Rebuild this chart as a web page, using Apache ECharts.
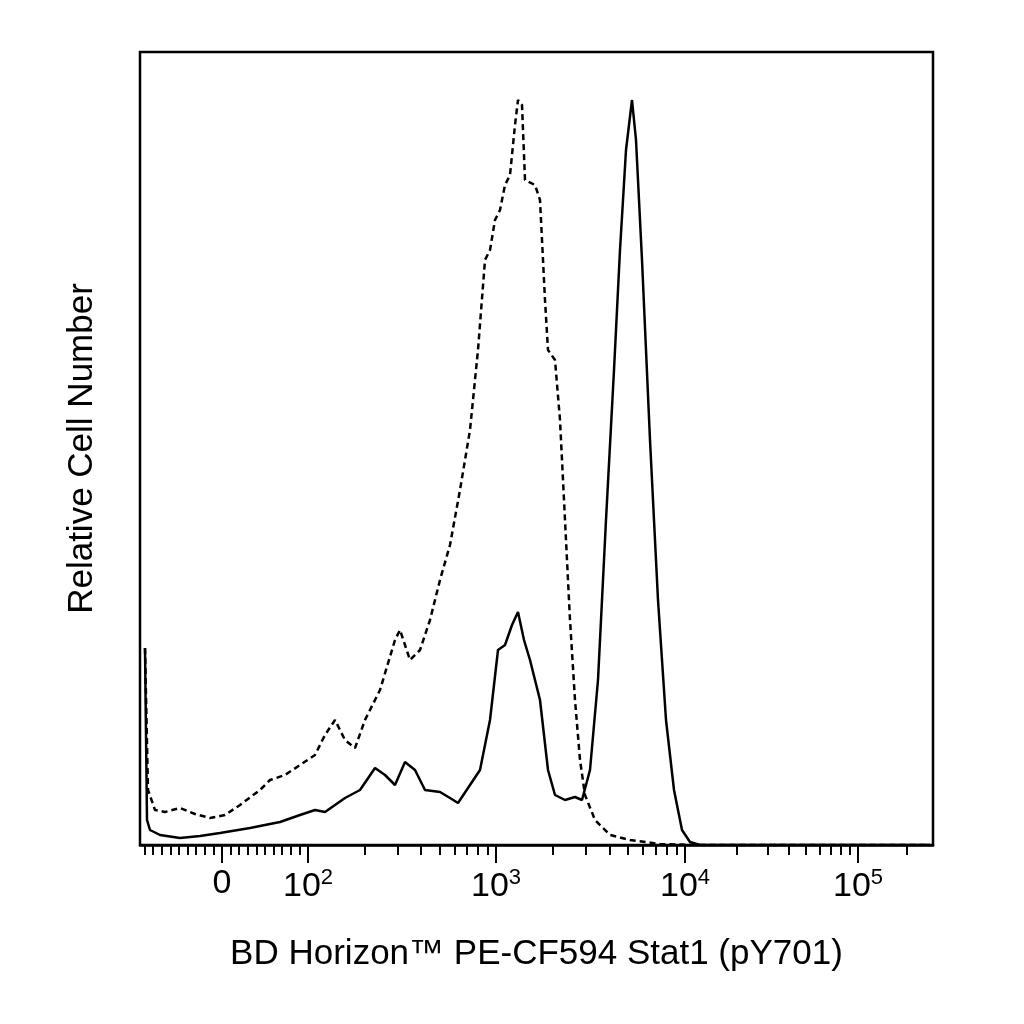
<!DOCTYPE html><html><head><meta charset="utf-8"><script src="https://cdn.jsdelivr.net/npm/echarts@6/dist/echarts.min.js"></script></head><body style="margin:0"><div id="c" style="width:1024px;height:1024px"></div><script>
// channel (display scale 0..793) and relative count
const solidX=[5,7,10,20,40,60,80,110,140,160,175,185,195,205,220,235,245,255,265,275,285,300,310,318,330,340,350,358,365,372,378,384,390,400,408,415,425,435,442,450,458,466,474,480,486,492,496,502,510,518,526,534,542,550,560,790];
const solidY=[197,25,15,10,7,9,12,17,23,30,35,33,40,47,55,77,70,60,83,75,55,53,47,42,60,75,125,195,200,220,233,205,185,145,75,50,45,48,45,75,165,325,475,595,695,745,705,585,405,245,125,55,15,3,0,0];
const dashX=[5,8,15,25,40,55,70,85,100,120,130,145,160,175,185,195,205,215,225,240,255,260,270,280,290,300,310,320,330,338,345,350,355,360,365,370,375,378,382,385,395,400,405,408,415,420,425,430,435,440,445,455,470,490,520,560,790];
const dashY=[197,55,35,33,37,31,27,30,40,55,65,70,80,90,110,125,105,97,125,155,205,215,185,195,225,265,300,355,415,495,585,595,625,635,660,670,720,745,740,665,660,645,545,495,485,425,325,225,145,85,50,25,10,5,1,0,0];
const majorTicks=[82,168,356,545,718];
const tickLabels=['0','10^2','10^3','10^4','10^5'];
const minor=[];
for(let k=1;k<=9;k++){minor.push(82-k*8.6);minor.push(82+k*8.6);}
const dec=[168,356,545,718,880];
for(let d=0;d<4;d++)for(let k=2;k<=9;k++){const v=dec[d]+Math.log10(k)*(dec[d+1]-dec[d]);if(v<=790)minor.push(v);}
const ff='Liberation Sans, Arial, sans-serif';
const lbl=v=>{const i=majorTicks.indexOf(v);const t=tickLabels[i];if(!t)return'';if(t==='0')return'{b|0}';const p=t.split('^');return'{b|'+p[0]+'}{s|'+p[1]+'}';};
const chart=echarts.init(document.getElementById('c'));
chart.setOption({animation:false,
grid:{left:140,right:91,top:52,bottom:179,show:true,borderColor:'#000',borderWidth:2.5,backgroundColor:'#fff'},
xAxis:[{type:'value',min:0,max:793,splitLine:{show:false},axisLine:{lineStyle:{color:'#000',width:2.5}},axisTick:{customValues:minor,length:10,lineStyle:{color:'#000',width:2}},axisLabel:{show:false},name:'BD Horizon™ PE-CF594 Stat1 (pY701)',nameLocation:'middle',nameGap:92,nameTextStyle:{fontFamily:ff,fontSize:35,color:'#000'}},
{type:'value',min:0,max:793,position:'bottom',splitLine:{show:false},axisLine:{show:false},axisTick:{customValues:majorTicks,length:18,lineStyle:{color:'#000',width:2}},axisLabel:{customValues:majorTicks,formatter:lbl,margin:22,rich:{b:{fontFamily:ff,fontSize:34,color:'#000'},s:{fontFamily:ff,fontSize:22,color:'#000',verticalAlign:'top',padding:[0,0,18,0]}}}}],
yAxis:{type:'value',min:0,max:793,splitLine:{show:false},axisLine:{show:false},axisTick:{show:false},axisLabel:{show:false},name:'Relative Cell Number',nameLocation:'middle',nameGap:40,nameTextStyle:{fontFamily:ff,fontSize:35,color:'#000'}},
series:[{type:'line',symbol:'none',data:solidX.map((x,i)=>[x,solidY[i]]),lineStyle:{color:'#000',width:2.5}},
{type:'line',symbol:'none',data:dashX.map((x,i)=>[x,dashY[i]]),lineStyle:{color:'#000',width:2.5,type:[6,4]}}]});
</script></body></html>
